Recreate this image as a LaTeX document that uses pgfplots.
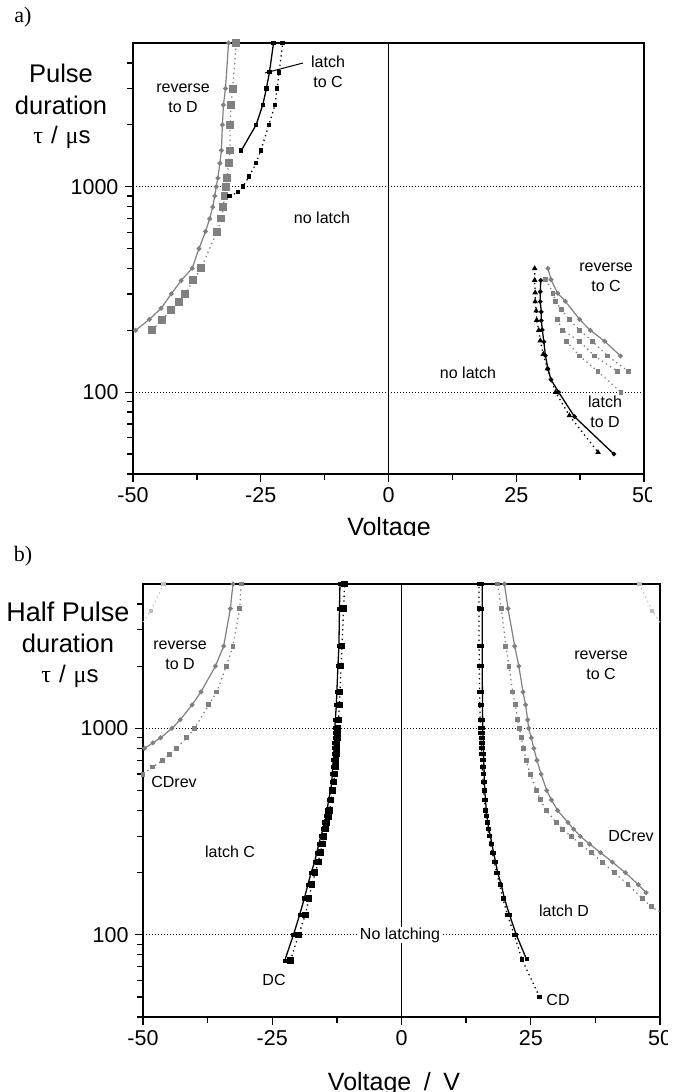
\documentclass[border=0pt]{standalone}
\usepackage{fontspec}
\setmainfont{Liberation Sans}
\newfontfamily\serif{Liberation Serif}
\usepackage{pgfplots}
\pgfplotsset{compat=1.18}
\definecolor{mgray}{RGB}{128,128,128}
\definecolor{lgray}{RGB}{190,190,190}
\pgfplotsset{
  panel/.style={
    scale only axis, anchor=south west,
    xmin=-50, xmax=50, ymin=40, ymax=5000,
    axis line style={line width=1.5pt},
    xtick={-50,-25,0,25,50}, xticklabels={-50,-25,0,25,50},
    minor xtick={-37.5,-12.5,12.5,37.5},
    ytick={100,1000}, yticklabels={100,1000},
    minor ytick={40,50,60,70,80,90,200,300,400,500,600,700,800,900,2000,3000,4000},
    tick align=outside, xtick pos=bottom, ytick pos=left,
    major tick length=8pt, minor tick length=6pt,
    every tick/.style={black, line width=1.3pt},
    ticklabel style={font=\fontsize{21.5}{21.5}\selectfont},
    xticklabel style={yshift=-2pt},
    yticklabel style={xshift=-3pt},
    ymajorgrids, major grid style={black, line width=0.9pt, dash pattern=on 0.9pt off 2.1pt},
  },
  gsol/.style={mgray, line width=1.2pt, mark=*, mark size=1.8pt},
  gdot/.style={mgray, line width=1.3pt, dash pattern=on 1.3pt off 3.5pt, mark=square*, mark size=1.8pt, mark options={solid}},
  bsol/.style={black, line width=1.3pt, mark=square*, mark size=1.5pt},
  bdot/.style={black, line width=1.3pt, dash pattern=on 1.3pt off 3.5pt, mark=square*, mark size=1.6pt, mark options={solid}},
}
\begin{document}
\begin{tikzpicture}
% ---------------- panel a ----------------
\begin{axis}[ymode=log, panel, at={(133pt,618pt)}, width=511pt, height=431pt]
\addplot[black, line width=1.5pt] coordinates {(0,40) (0,5000)};
\addplot[gsol] coordinates {(-49.5,200) (-46.8,226) (-44.5,256) (-42.5,301) (-40.6,349) (-38.4,401) (-37.1,499) (-35.8,605) (-35.0,698) (-34.4,796) (-34.0,900) (-33.7,1000) (-33.4,1100) (-33.0,1300) (-32.7,1500) (-32.5,2000) (-32.3,2500) (-31.9,3000) (-31.3,5000)};
\addplot[gdot, mark size=3.3pt] coordinates {(-46.2,200) (-44.4,225) (-42.5,250) (-41.0,275) (-39.8,300) (-38.2,350) (-36.7,400) (-33.6,600) (-32.7,700) (-32.3,800) (-32.1,900) (-31.8,1000) (-31.6,1100) (-31.3,1300) (-31.0,1500) (-31.0,2000) (-30.8,2500) (-30.5,3000) (-29.8,5000)};
\addplot[bsol] coordinates {(-28.8,1500) (-25.9,2000) (-24.6,2500) (-23.9,3000) (-23.3,3600) (-22.5,5000)};
\addplot[bdot] coordinates {(-31.1,900) (-29.5,940) (-28.5,1000) (-27.3,1120) (-25.9,1300) (-25.0,1500) (-23.4,2000) (-22.2,2500) (-21.8,3000) (-21.4,3600) (-20.7,5000)};
\addplot[black, line width=1.3pt, mark=*, mark size=1.6pt] coordinates {(29.8,350) (29.7,308) (29.7,276) (29.9,246) (29.9,223) (30.1,201) (30.4,176) (30.7,151) (31.2,130) (31.8,115) (33.3,100) (36.4,76) (44.1,50)};
\addplot[bdot, mark=triangle*, mark size=2pt] coordinates {(28.6,400) (28.6,351) (28.7,305) (28.7,276) (28.9,249) (29.0,224) (29.4,200) (29.7,178) (30.3,153) (31.1,130) (32.7,100) (35.4,77) (41.0,51)};
\addplot[gsol] coordinates {(31.2,400) (31.8,353) (33.1,303) (34.6,277) (37.4,226) (39.5,200) (42.3,177) (45.4,150)};
\addplot[gdot] coordinates {(30.8,353) (32.2,303) (32.7,277) (33.8,253) (35.4,226) (37.4,200) (39.9,177) (42.9,150) (47.0,126)};
\addplot[gdot] coordinates {(33.0,226) (34.1,200) (37.4,177) (40.3,150) (44.9,126)};
\addplot[gdot] coordinates {(34.8,177) (37.4,150) (41.0,126) (45.5,100)};
\end{axis}
% ---------------- panel b ----------------
\begin{axis}[ymode=log, panel, at={(143pt,75pt)}, width=517pt, height=433pt]
\addplot[black, line width=1.5pt] coordinates {(0,40) (0,5000)};
\addplot[lgray, line width=1.2pt, dash pattern=on 1.2pt off 3.5pt, mark=square*, mark size=1.6pt, mark options={solid}] coordinates {(-51,3000) (-48.5,3700) (-46.0,5000)};
\addplot[lgray, line width=1.2pt, dash pattern=on 1.2pt off 3.5pt, mark=square*, mark size=1.6pt, mark options={solid}] coordinates {(46.0,5000) (48.5,3700) (51,3000)};
\addplot[gsol] coordinates {(-51.5,750) (-49.7,800) (-48.1,850) (-46.6,900) (-44.4,1000) (-42.8,1100) (-40.5,1300) (-38.8,1500) (-36.0,2000) (-34.4,2500) (-33.1,3800) (-32.6,5000)};
\addplot[gdot] coordinates {(-51.5,570) (-50.0,600) (-48.1,650) (-46.2,700) (-44.8,750) (-43.5,800) (-41.6,900) (-40.0,1000) (-37.3,1300) (-35.7,1500) (-33.9,2000) (-32.6,2500) (-31.3,3800) (-31.0,5000)};
\addplot[bsol, mark size=1.4pt] coordinates {(-22.6,75) (-20.9,100) (-19.7,125) (-18.8,150) (-18.1,175) (-17.5,200) (-16.8,225) (-16.4,250) (-16.0,275) (-15.6,300) (-15.2,325) (-14.9,350) (-14.6,375) (-14.4,400) (-14.1,450) (-13.7,500) (-13.5,550) (-13.4,600) (-13.3,650) (-13.2,700) (-13.1,750) (-13.05,800) (-13.0,850) (-12.95,900) (-12.9,950) (-12.9,1000) (-12.8,1100) (-12.6,1300) (-12.5,1500) (-12.3,2000) (-12.1,2500) (-12.0,3800) (-11.9,5000)};
\addplot[bdot, mark size=2.6pt] coordinates {(-21.5,75) (-19.9,100) (-18.6,125) (-17.9,150) (-17.3,175) (-16.7,200) (-16.1,225) (-15.7,250) (-15.3,275) (-15.0,300) (-14.7,325) (-14.4,350) (-14.1,375) (-13.9,400) (-13.6,450) (-13.3,500) (-13.1,550) (-12.9,600) (-12.8,650) (-12.7,700) (-12.6,750) (-12.5,800) (-12.45,850) (-12.4,900) (-12.35,950) (-12.3,1000) (-12.2,1100) (-12.0,1300) (-11.9,1500) (-11.7,2000) (-11.5,2500) (-11.2,3800) (-11.0,5000)};
\addplot[bsol, mark size=1.4pt] coordinates {(24.2,76) (22.2,100) (20.9,125) (19.9,150) (19.3,175) (18.6,200) (18.2,225) (17.8,250) (17.5,275) (17.2,300) (16.9,325) (16.7,350) (16.55,375) (16.4,400) (16.25,450) (16.1,500) (16.05,550) (16.0,600) (15.95,650) (15.9,700) (15.87,750) (15.85,800) (15.82,850) (15.8,900) (15.75,950) (15.7,1000) (15.7,1100) (15.65,1300) (15.65,1500) (15.6,2000) (15.6,2500) (15.6,3800) (15.6,5000)};
\addplot[bdot, mark size=1.5pt] coordinates {(26.7,50) (23.3,76) (21.8,100) (20.5,125) (19.6,150) (19.0,175) (18.4,200) (17.95,225) (17.55,250) (17.25,275) (16.95,300) (16.7,325) (16.5,350) (16.35,375) (16.2,400) (16.05,450) (15.9,500) (15.8,550) (15.7,600) (15.6,650) (15.55,700) (15.5,750) (15.45,800) (15.4,850) (15.35,900) (15.3,950) (15.25,1000) (15.2,1100) (15.15,1300) (15.1,1500) (15.05,2000) (15.0,2500) (15.0,3800) (15.0,5000)};
\addplot[gsol] coordinates {(19.9,5000) (20.6,3800) (21.9,2500) (22.7,2000) (23.5,1500) (24.0,1300) (24.4,1100) (24.6,1000) (25.1,900) (25.6,800) (26.2,700) (27.0,600) (28.1,500) (29.0,450) (30.2,400) (32.2,350) (33.3,325) (34.6,300) (36.4,275) (38.5,250) (40.8,225) (43.3,200) (45.8,175) (47.3,160)};
\addplot[gdot] coordinates {(18.6,5000) (19.3,3800) (20.2,2500) (20.8,2000) (21.5,1500) (22.0,1300) (22.5,1100) (22.8,1000) (23.2,900) (23.6,800) (24.1,700) (24.9,600) (26.1,500) (26.9,450) (28.0,400) (29.9,350) (31.2,325) (32.8,300) (34.6,275) (36.7,250) (38.8,225) (41.2,200) (43.8,175) (46.6,150) (48.3,137) (50.8,125)};
\end{axis}
% ---------------- texts ----------------
\begin{scope}[every node/.style={inner sep=0pt}]
\node[font=\serif\fontsize{22}{22}\selectfont] at (23pt,1075pt) {a)};
\node[font=\serif\fontsize{22}{22}\selectfont] at (23pt,536pt) {b)};
% panel a y label
\node[font=\fontsize{25.5}{25.5}\selectfont] at (61pt,1019pt) {Pulse};
\node[font=\fontsize{25.5}{25.5}\selectfont] at (61pt,987pt) {duration};
\node[font=\fontsize{24}{24}\selectfont] at (62pt,955pt) {{\serif τ}\,\,/\,\,{\serif μ}s};
% panel b y label
\node[font=\fontsize{27}{27}\selectfont] at (68pt,480pt) {Half Pulse};
\node[font=\fontsize{25.5}{25.5}\selectfont] at (68pt,449pt) {duration};
\node[font=\fontsize{24}{24}\selectfont] at (70pt,416pt) {{\serif τ}\,\,/\,\,{\serif μ}s};
% x labels
\node[font=\fontsize{25}{25}\selectfont, anchor=base] at (389pt,556pt) {Voltage};
\fill[white] (300pt,540pt) rectangle (480pt,555.6pt);
\node[font=\fontsize{25}{25}\selectfont, anchor=base] at (394pt,1.5pt) {Voltage\,\,\,/\,\,\,V};
% clipped "50"
\fill[white] (652pt,580pt) rectangle (683pt,613pt);
\fill[white] (668pt,30pt) rectangle (683pt,68pt);
% annotations
\begin{scope}[every node/.append style={font=\fontsize{16}{20}\selectfont, align=center}]
\node at (183pt,994pt) {reverse\\to D};
\node at (328pt,1020pt) {latch\\to C};
\node at (322pt,874pt) {no latch};
\node at (468pt,719pt) {no latch};
\node at (606pt,815pt) {reverse\\to C};
\node at (605pt,680pt) {latch\\to D};
\node at (180pt,437pt) {reverse\\to D};
\node at (174pt,310pt) {CDrev};
\node at (601pt,427pt) {reverse\\to C};
\node at (631pt,256pt) {DCrev};
\node at (230pt,240pt) {latch C};
\node at (274pt,112pt) {DC};
\node[fill=white, inner sep=1pt] at (400pt,157pt) {No latching};
\node at (564pt,181pt) {latch D};
\node at (558pt,92pt) {CD};
\end{scope}
\end{scope}
\draw[black, line width=1pt] (303pt,1029pt) -- (265pt,1019pt);
\pgfresetboundingbox
\useasboundingbox (0pt,0pt) rectangle (683pt,1092pt);
\end{tikzpicture}
\end{document}
